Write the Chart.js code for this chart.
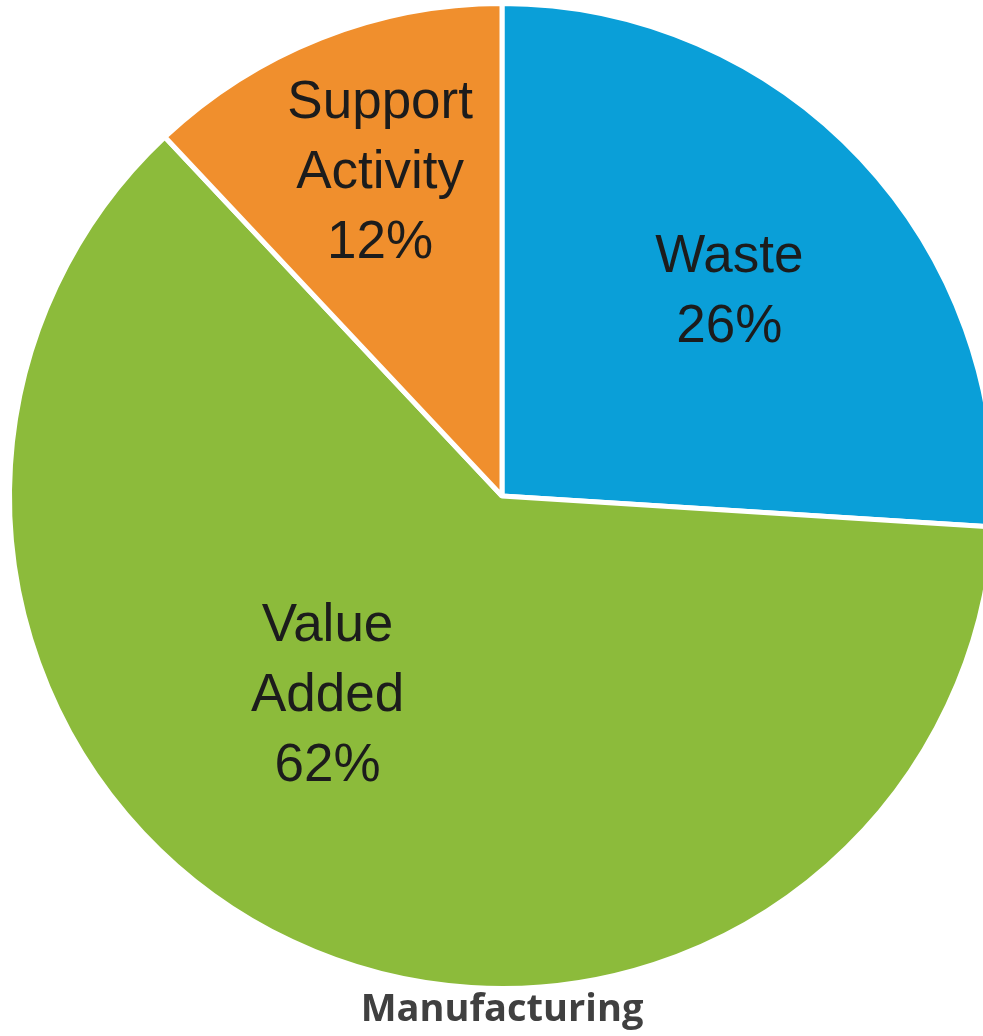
<!DOCTYPE html>
<html>
<head>
<meta charset="utf-8">
<script src="https://cdn.jsdelivr.net/npm/chart.js@4/dist/chart.umd.min.js"></script>
<style>
  html, body { margin: 0; padding: 0; background: #fff; overflow: hidden; }
  canvas { display: block; }
</style>
</head>
<body>
<canvas id="pie" width="1000" height="1036"></canvas>
<script>
// Time split for manufacturing activities (percent)
const categories = ['Waste', 'Value Added', 'Support Activity'];
const shares = [26, 62, 12];
const sliceColors = ['#0a9fd8', '#8cbb3b', '#f08f2d'];

// Draws the category name and percentage inside every slice.
// angleShift (degrees) and radius (fraction of outer radius) nudge each label.
const sliceLabels = {
    id: 'sliceLabels',
    afterDatasetsDraw(chart, args, opts) {
        const ctx = chart.ctx;
        const meta = chart.getDatasetMeta(0);
        const values = chart.data.datasets[0].data;
        const total = values.reduce((a, b) => a + b, 0);

        ctx.save();
        ctx.font = opts.font;
        ctx.fillStyle = opts.color;
        ctx.textAlign = 'center';
        ctx.textBaseline = 'middle';

        meta.data.forEach((arc, i) => {
            const p = arc.getProps(['x', 'y', 'startAngle', 'endAngle', 'outerRadius'], true);
            const place = opts.placement[i];
            const angle = (p.startAngle + p.endAngle) / 2 + place.angleShift * Math.PI / 180;
            const r = p.outerRadius * place.radius;
            const cx = p.x + r * Math.cos(angle);
            const cy = p.y + r * Math.sin(angle);

            const lines = chart.data.labels[i].split(' ');
            lines.push(Math.round(values[i] / total * 100) + '%');
            const top = cy - (lines.length - 1) * opts.lineHeight / 2;
            lines.forEach((line, k) => {
                ctx.fillText(line, cx, top + k * opts.lineHeight);
            });
        });
        ctx.restore();
    }
};

const ctx = document.getElementById('pie').getContext('2d');
new Chart(ctx, {
    type: 'pie',
    data: {
        labels: categories,
        datasets: [{
            data: shares,
            backgroundColor: sliceColors,
            borderColor: '#ffffff',
            borderWidth: 5
        }]
    },
    options: {
        responsive: false,
        animation: false,
        layout: { padding: { top: 1, left: 7, right: 3, bottom: 0 } },
        plugins: {
            legend: { display: false },
            tooltip: { enabled: false },
            title: {
                display: true,
                text: 'Manufacturing',
                position: 'bottom',
                color: '#404040',
                font: { family: '"Open Sans", sans-serif', size: 38, weight: 'bold', lineHeight: 1.0 },
                padding: { top: 0, bottom: 7 }
            },
            sliceLabels: {
                font: '53px "Liberation Sans", Arial, sans-serif',
                color: '#1c1c1c',
                lineHeight: 70,
                placement: [
                    { angleShift: 1.3, radius: 0.62 },
                    { angleShift: 15.8, radius: 0.54 },
                    { angleShift: 0.9, radius: 0.70 }
                ]
            }
        }
    },
    plugins: [sliceLabels]
});
</script>
</body>
</html>
